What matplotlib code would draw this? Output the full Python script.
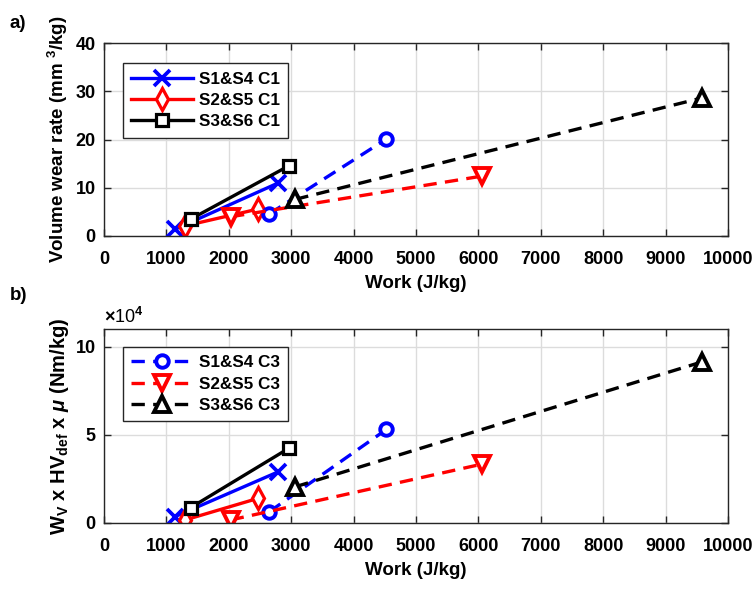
import matplotlib
matplotlib.use("Agg")
import matplotlib.pyplot as plt
from matplotlib.ticker import FuncFormatter

plt.rcParams['font.family'] = ['Liberation Sans', 'DejaVu Sans']
plt.rcParams['font.weight'] = 'bold'
plt.rcParams['mathtext.fontset'] = 'custom'
plt.rcParams['mathtext.rm'] = 'Liberation Sans:bold'
plt.rcParams['mathtext.it'] = 'Liberation Sans:bold:italic'
plt.rcParams['mathtext.bf'] = 'Liberation Sans:bold'

# ---- data (C1 = solid, C3 = dashed) ----
s14_c1_work = [1138, 2793]
s14_c1_wear = [1.4, 11.0]
s25_c1_work = [1298, 2473]
s25_c1_wear = [2.1, 5.6]
s36_c1_work = [1389, 2970]
s36_c1_wear = [3.5, 14.6]

s14_c3_work = [2650, 4525]
s14_c3_wear = [4.6, 20.1]
s25_c3_work = [2035, 6050]
s25_c3_wear = [4.0, 12.4]
s36_c3_work = [3065, 9575]
s36_c3_wear = [7.6, 28.6]

# bottom panel (Wv x HVdef x mu), in units of 1e4 Nm/kg
s14_c1_en = [0.36, 2.9]
s25_c1_en = [0.17, 1.4]
s36_c1_en = [0.87, 4.25]
s14_c3_en = [0.64, 5.3]
s25_c3_work_b = [2030, 6050]
s25_c3_en = [0.17, 3.33]
s36_c3_en = [2.05, 9.12]

labels_c1 = ['S1&S4 C1', 'S2&S5 C1', 'S3&S6 C1']
labels_c3 = ['S1&S4 C3', 'S2&S5 C3', 'S3&S6 C3']
xticks = list(range(0, 10001, 1000))

fig = plt.figure(figsize=(7.56, 5.90), dpi=100)
ax1 = fig.add_axes([0.1376, 0.600, 0.8254, 0.327])
ax2 = fig.add_axes([0.1376, 0.1136, 0.8254, 0.329])

lw = 2.4
mew = 2.3
ms = 10
dash = (4, 2.5)
FS_T = 13
FS_L = 13.5
FS_LEG = 12.3

def style(ax):
    ax.grid(True, color='#dcdcdc', linewidth=1.0)
    ax.set_axisbelow(True)
    ax.tick_params(direction='in', top=True, right=True, labelsize=FS_T,
                   color='#262626', length=5, width=1.0, pad=6)
    ax.tick_params(axis='x', pad=11)
    for sp in ax.spines.values():
        sp.set_color('#262626')
        sp.set_linewidth(1.0)
    ax.set_xlim(0, 10000)
    ax.set_xticks(xticks)
    ax.set_xlabel('Work (J/kg)', fontsize=FS_L, fontweight='bold', labelpad=5)

def legend(ax, handles, y):
    leg = ax.legend(handles=handles, loc='upper left', bbox_to_anchor=(0.030, y),
                    fontsize=FS_LEG, handlelength=3.6, handletextpad=0.35,
                    frameon=True, fancybox=False, framealpha=1,
                    edgecolor='#262626', borderpad=0.5, labelspacing=0.36,
                    borderaxespad=0)
    leg.get_frame().set_linewidth(1.0)

# ---- top panel ----
h1, = ax1.plot(s14_c1_work, s14_c1_wear, '-', color='blue', lw=lw, marker='x', ms=11, mew=2.7, label=labels_c1[0])
h2, = ax1.plot(s25_c1_work, s25_c1_wear, '-', color='red', lw=lw, marker='d', ms=ms+1, mew=mew, mfc='white', label=labels_c1[1])
h3, = ax1.plot(s36_c1_work, s36_c1_wear, '-', color='black', lw=lw, marker='s', ms=8, mew=mew, mfc='white', label=labels_c1[2])
ax1.plot(s14_c3_work, s14_c3_wear, '--', color='blue', lw=lw, marker='o', ms=ms-1, mew=mew+0.5, mfc='white', dashes=dash)
ax1.plot(s25_c3_work, s25_c3_wear, '--', color='red', lw=lw, marker='v', ms=ms+1, mew=mew+0.5, mfc='white', dashes=dash)
ax1.plot(s36_c3_work, s36_c3_wear, '--', color='black', lw=lw, marker='^', ms=ms+1, mew=mew+0.5, mfc='white', dashes=dash)
style(ax1)
ax1.set_ylim(0, 40)
ax1.set_yticks([0, 10, 20, 30, 40])
ax1.set_ylabel('Volume wear rate (mm $^3$/kg)', fontsize=FS_L, fontweight='bold', labelpad=4)
legend(ax1, [h1, h2, h3], 0.896)

# ---- bottom panel ----
ax2.plot(s14_c1_work, s14_c1_en, '-', color='blue', lw=lw, marker='x', ms=11, mew=2.7)
ax2.plot(s25_c1_work, s25_c1_en, '-', color='red', lw=lw, marker='d', ms=ms+1, mew=mew, mfc='white')
ax2.plot(s36_c1_work, s36_c1_en, '-', color='black', lw=lw, marker='s', ms=8, mew=mew, mfc='white')
g1, = ax2.plot(s14_c3_work, s14_c3_en, '--', color='blue', lw=lw, marker='o', ms=ms-1, mew=mew+0.5, mfc='white', dashes=dash, label=labels_c3[0])
g2, = ax2.plot(s25_c3_work_b, s25_c3_en, '--', color='red', lw=lw, marker='v', ms=ms+1, mew=mew+0.5, mfc='white', dashes=dash, label=labels_c3[1])
g3, = ax2.plot(s36_c3_work, s36_c3_en, '--', color='black', lw=lw, marker='^', ms=ms+1, mew=mew+0.5, mfc='white', dashes=dash, label=labels_c3[2])
style(ax2)
ax2.set_ylim(0, 11)
ax2.set_yticks([0, 5, 10])
ax2.yaxis.set_major_formatter(FuncFormatter(lambda v, p: f'{v:g}'))
ax2.text(0.0, 1.012, r'$\times$10$^4$', transform=ax2.transAxes, fontsize=FS_T,
         fontweight='normal', ha='left', va='bottom')
ax2.set_ylabel(r'W$_\mathregular{V}$ x HV$_\mathregular{def}$ x $\mu$ (Nm/kg)',
               fontsize=14.5, fontweight='bold', labelpad=3)
legend(ax2, [g1, g2, g3], 0.907)

fig.text(0.013, 0.961, 'a)', fontsize=13.5, fontweight='bold', va='center')
fig.text(0.013, 0.500, 'b)', fontsize=13.5, fontweight='bold', va='center')

fig.savefig('out.png', dpi=100)
